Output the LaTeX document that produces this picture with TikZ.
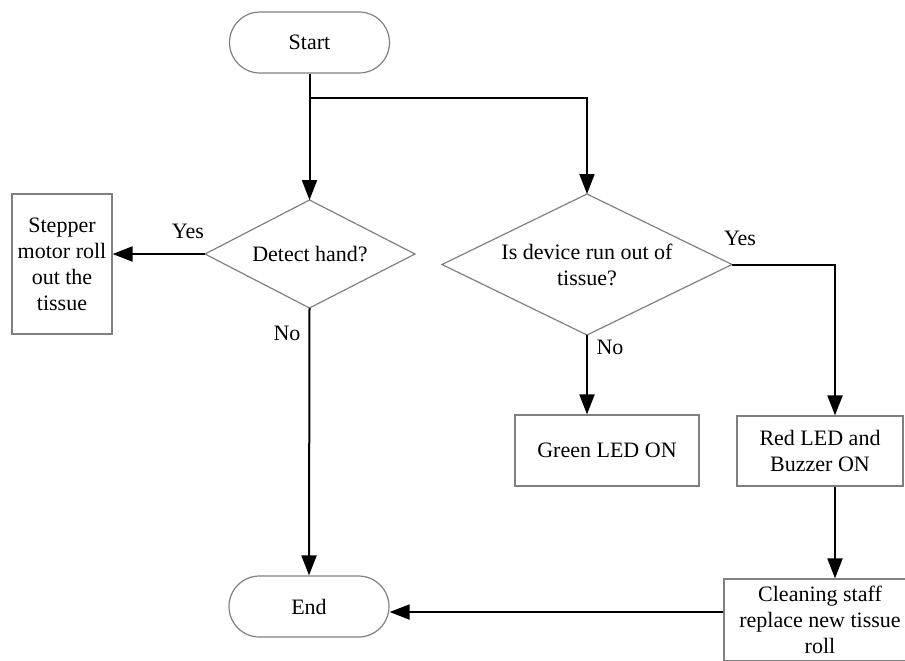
\documentclass[tikz,border=0pt]{standalone}
\usepackage{fontspec}
\setmainfont{Liberation Serif}
\usetikzlibrary{shapes.misc,arrows.meta}
\definecolor{shapegray}{RGB}{128,128,128}
\begin{document}
\begin{tikzpicture}[x=0.5pt,y=-0.5pt,
  every node/.style={font=\fontsize{11}{13}\selectfont},
  term/.style={rounded rectangle, draw=shapegray, line width=0.6pt, minimum width=80pt, minimum height=30.5pt, inner sep=0pt},
  box/.style={rectangle, draw=shapegray, line width=0.6pt, inner sep=0pt, align=center},
  dshape/.style={draw=shapegray, line width=0.6pt, line join=miter},
  dtext/.style={inner sep=0pt, align=center},
  flow/.style={line width=1pt, -{Triangle[length=10pt,width=7.5pt]}},
  lab/.style={inner sep=0pt}
]
\useasboundingbox (0,0) rectangle (905,660);
\node[term] (start) at (309.5,42.5) {Start};
% decision 1
\coordinate (d1n) at (309.5,200);
\coordinate (d1s) at (309.5,308);
\coordinate (d1w) at (205,254);
\coordinate (d1e) at (415,254);
\draw[dshape] (d1n) -- (d1e) -- (d1s) -- (d1w) -- cycle;
\node[dtext] (d1) at (310,254) {Detect hand?};
% decision 2
\coordinate (d2n) at (587,194);
\coordinate (d2s) at (587,335);
\coordinate (d2w) at (442,264.5);
\coordinate (d2e) at (732,264.5);
\draw[dshape] (d2n) -- (d2e) -- (d2s) -- (d2w) -- cycle;
\node[dtext] (d2) at (587,264.5) {Is device run out of\\tissue?};
\node[box, minimum width=50pt, minimum height=70pt] (step) at (62,264) {Stepper\\motor roll\\out the\\tissue};
\node[box, minimum width=92pt, minimum height=35.5pt] (green) at (607,450.5) {Green LED ON};
\node[box, minimum width=83pt, minimum height=35pt] (red) at (820,451) {Red LED and\\Buzzer ON};
\node[box, minimum width=96pt, minimum height=41pt] (clean) at (820,620) {Cleaning staff\\replace new tissue\\roll};
\node[term] (end) at (309,606.5) {End};
\coordinate (br) at (309.5,98);
\draw[flow] (start.south) -- (d1n);
\draw[flow] (br) -| (d2n);
\draw[flow] (d1w) -- (d1w -| step.east);
\draw[flow] (d1s) -- (end.north);
\draw[flow] (d2e) -| ([xshift=7.5pt]red.north);
\draw[flow] (d2s) -- (d2s |- green.north);
\draw[flow] ([xshift=7.5pt]red.south) -- ([xshift=7.5pt]clean.north);
\draw[flow] ([yshift=4pt]clean.west) -- ([yshift=4pt]clean.west -| end.east);
\node[lab] (y1) at (188,231) {Yes};
\node[lab] (n1) at (287,333) {No};
\node[lab] (y2) at (740,238) {Yes};
\node[lab] (n2) at (610,347) {No};
\end{tikzpicture}
\end{document}
